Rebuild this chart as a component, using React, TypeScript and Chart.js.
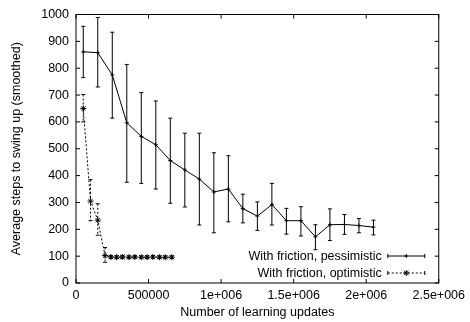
import React, { useEffect, useRef } from 'react';
import { Chart, registerables } from 'chart.js';

Chart.register(...registerables);

// ---- data ----
const pessX = [50000, 150000, 250000, 350000, 450000, 550000, 650000, 750000, 850000, 950000, 1050000,
  1150000, 1250000, 1350000, 1450000, 1550000, 1650000, 1750000, 1850000, 1950000, 2050000];
const pessY = [861, 858, 775, 597, 546, 515, 456, 421, 387, 339, 350, 277, 249, 292, 232, 232, 172, 217, 218, 214, 208];
const pessHigh = [956, 989, 934, 814, 709, 678, 614, 558, 558, 485, 474, 331, 302, 371, 278, 284, 217, 276, 255, 240, 234];
const pessLow = [765, 730, 614, 375, 371, 350, 297, 283, 216, 187, 228, 224, 196, 216, 182, 175, 124, 158, 181, 187, 179];

const optX = [50000, 100000, 150000, 200000, 240000, 280000, 320000, 365000, 405000, 450000, 490000, 530000, 575000, 615000, 660000];
const optY = [650, 305, 234, 102, 97, 96, 97, 96, 97, 96, 96, 97, 96, 96, 96];
const optHigh = [702, 385, 295, 132, 102, 101, 102, 101, 102, 101, 101, 102, 101, 101, 101];
const optLow = [600, 232, 178, 77, 92, 91, 92, 91, 92, 91, 91, 92, 91, 91, 91];

const seriesLabels = ['With friction, pessimistic', 'With friction, optimistic'];
const xTickLabels = ['0', '500000', '1e+006', '1.5e+006', '2e+006', '2.5e+006'];
const yTickLabels = ['0', '100', '200', '300', '400', '500', '600', '700', '800', '900', '1000'];
const xTitle = 'Number of learning updates';
const yTitle = 'Average steps to swing up (smoothed)';

const FONT = '"Liberation Sans", Arial, Helvetica, sans-serif';
const FS = 12.5;

function drawMarker(ctx: CanvasRenderingContext2D, style: string, x: number, y: number, r: number) {
  ctx.beginPath();
  ctx.moveTo(x - r, y); ctx.lineTo(x + r, y);
  ctx.moveTo(x, y - r); ctx.lineTo(x, y + r);
  if (style === 'star') {
    const d = r * 0.75;
    ctx.moveTo(x - d, y - d); ctx.lineTo(x + d, y + d);
    ctx.moveTo(x - d, y + d); ctx.lineTo(x + d, y - d);
  }
  ctx.stroke();
}

export default function App() {
  const ref = useRef<HTMLCanvasElement>(null);

  useEffect(() => {
    document.body.style.margin = '0';
    const canvas = ref.current;
    if (!canvas) return;

    const errorBars = {
      id: 'errorBars',
      afterDatasetsDraw(chart: any) {
        const ctx = chart.ctx as CanvasRenderingContext2D;
        const ys = chart.scales.y;
        ctx.save();
        ctx.beginPath();
        ctx.rect(chart.chartArea.left, chart.chartArea.top, chart.chartArea.right - chart.chartArea.left, chart.chartArea.bottom - chart.chartArea.top);
        ctx.clip();
        chart.data.datasets.forEach((ds: any, i: number) => {
          const meta = chart.getDatasetMeta(i);
          ctx.strokeStyle = '#000';
          ctx.lineWidth = 1;
          meta.data.forEach((pt: any, j: number) => {
            const x = pt.x;
            const y1 = ys.getPixelForValue(ds.errHigh[j]);
            const y2 = ys.getPixelForValue(ds.errLow[j]);
            ctx.setLineDash(ds.borderDash || []);
            ctx.beginPath();
            ctx.moveTo(x, y1); ctx.lineTo(x, y2);
            ctx.stroke();
            ctx.setLineDash([]);
            ctx.beginPath();
            ctx.moveTo(x - 2, y1); ctx.lineTo(x + 2, y1);
            ctx.moveTo(x - 2, y2); ctx.lineTo(x + 2, y2);
            ctx.stroke();
          });
        });
        ctx.restore();
      },
    };

    const frame = {
      id: 'frame',
      afterDraw(chart: any) {
        const ctx = chart.ctx as CanvasRenderingContext2D;
        const { left, right, top, bottom } = chart.chartArea;
        const xs = chart.scales.x, ys = chart.scales.y;
        ctx.save();
        ctx.strokeStyle = '#000';
        ctx.lineWidth = 1;
        ctx.setLineDash([]);
        ctx.strokeRect(left, top, right - left, bottom - top);
        ctx.beginPath();
        ys.ticks.forEach((t: any) => {
          const y = ys.getPixelForValue(t.value);
          ctx.moveTo(left, y); ctx.lineTo(left + 4, y);
          ctx.moveTo(right, y); ctx.lineTo(right - 4, y);
        });
        xs.ticks.forEach((t: any) => {
          const x = xs.getPixelForValue(t.value);
          ctx.moveTo(x, bottom); ctx.lineTo(x, bottom - 4);
          ctx.moveTo(x, top); ctx.lineTo(x, top + 4);
        });
        ctx.stroke();

        // legend
        ctx.font = `${FS}px ${FONT}`;
        ctx.fillStyle = '#000';
        ctx.textAlign = 'right';
        ctx.textBaseline = 'middle';
        const x0 = right - 51, x1 = right - 14, tx = right - 57;
        chart.data.datasets.forEach((ds: any, i: number) => {
          const y = bottom - 27 + i * 17;
          ctx.fillText(ds.label, tx, y + 1);
          ctx.setLineDash(ds.borderDash || []);
          ctx.beginPath();
          ctx.moveTo(x0, y); ctx.lineTo(x1, y);
          ctx.stroke();
          ctx.setLineDash([]);
          ctx.beginPath();
          ctx.moveTo(x0, y - 2); ctx.lineTo(x0, y + 2);
          ctx.moveTo(x1, y - 2); ctx.lineTo(x1, y + 2);
          ctx.stroke();
          drawMarker(ctx, ds.pointStyle, (x0 + x1) / 2, y, ds.pointStyle === 'star' ? 3 : 2);
        });
        ctx.restore();
      },
    };

    const chart = new Chart(canvas, {
      type: 'scatter',
      data: {
        datasets: [
          {
            label: seriesLabels[0],
            data: pessX.map((x, i) => ({ x, y: pessY[i] })),
            showLine: true,
            borderColor: '#000',
            borderWidth: 1,
            pointStyle: 'cross',
            pointRadius: 2,
            pointBorderWidth: 1,
            pointBorderColor: '#000',
            pointBackgroundColor: '#000',
            errHigh: pessHigh,
            errLow: pessLow,
          } as any,
          {
            label: seriesLabels[1],
            data: optX.map((x, i) => ({ x, y: optY[i] })),
            showLine: true,
            borderColor: '#000',
            borderWidth: 1,
            borderDash: [2, 2],
            pointStyle: 'star',
            pointRadius: 3,
            pointBorderWidth: 1,
            pointBorderColor: '#000',
            pointBackgroundColor: '#000',
            errHigh: optHigh,
            errLow: optLow,
          } as any,
        ],
      },
      options: {
        animation: false,
        responsive: false,
        devicePixelRatio: 1,
        events: [],
        layout: { padding: { top: 14, right: 28, bottom: 0, left: 0 } },
        plugins: { legend: { display: false }, tooltip: { enabled: false } },
        scales: {
          x: {
            type: 'linear',
            min: 0,
            max: 2500000,
            grid: { display: false, drawTicks: false },
            border: { display: false },
            ticks: {
              stepSize: 500000,
              autoSkip: false,
              maxRotation: 0,
              padding: 5,
              color: '#000',
              font: { family: FONT, size: FS },
              callback: (_v: any, i: number) => xTickLabels[i],
            },
            title: {
              display: true,
              text: xTitle,
              color: '#000',
              font: { family: FONT, size: FS },
              padding: { top: 0, bottom: 1.5 },
            },
            afterFit: (s: any) => { s.height = 39; },
          },
          y: {
            type: 'linear',
            min: 0,
            max: 1000,
            grid: { display: false, drawTicks: false },
            border: { display: false },
            ticks: {
              stepSize: 100,
              autoSkip: false,
              padding: 7,
              color: '#000',
              font: { family: FONT, size: FS },
              callback: (_v: any, i: number) => yTickLabels[i],
            },
            title: {
              display: true,
              text: yTitle,
              color: '#000',
              font: { family: FONT, size: FS },
              padding: { top: 9, bottom: 0 },
            },
            afterFit: (s: any) => { s.width = 76; },
          },
        },
      } as any,
      plugins: [errorBars, frame],
    });

    return () => chart.destroy();
  }, []);

  return (
    <div style={{ width: 470, height: 322 }}>
      <canvas ref={ref} width={470} height={322} />
    </div>
  );
}
